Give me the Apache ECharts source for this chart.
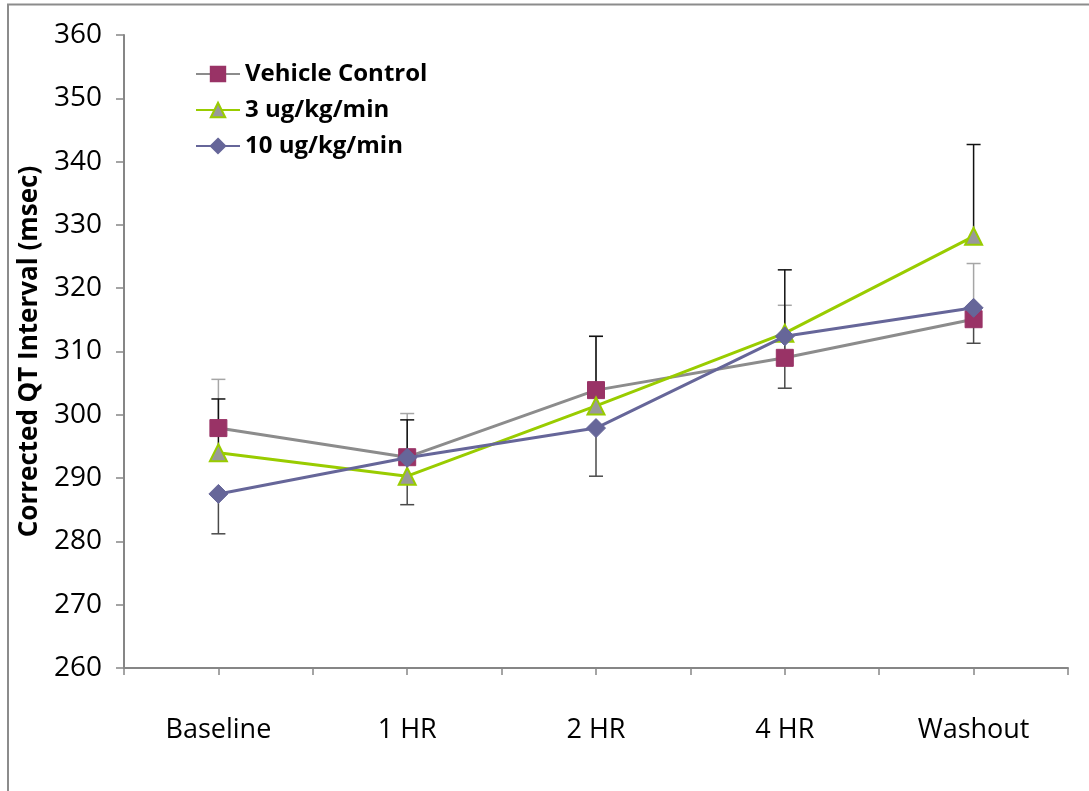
<!DOCTYPE html>
<html>
<head>
<meta charset="utf-8">
<script src="https://cdn.jsdelivr.net/npm/echarts@6/dist/echarts.min.js"></script>
<style>
html,body{margin:0;padding:0;background:#fff;}
#main{width:1089px;height:791px;}
</style>
</head>
<body>
<div id="main"></div>
<script>
// ---- data ----
const categories = ['Baseline', '1 HR', '2 HR', '4 HR', 'Washout'];
const seriesNames = ['Vehicle Control', '3 ug/kg/min', '10 ug/kg/min'];
const vehicle = [297.9, 293.3, 303.9, 309.0, 315.1];
const ug3 = [294.0, 290.3, 301.4, 312.9, 328.2];
const ug10 = [287.5, 293.2, 297.9, 312.4, 316.9];
// error bar ends (one-sided, as drawn in the reference)
const vehicleErrHigh = [305.6, 300.2, 312.4, 317.3, 323.9];
const ug3ErrHigh = [302.5, 299.2, 312.4, 322.9, 342.7];
const ug10ErrLow = [281.2, 285.8, 290.3, 304.2, 311.3];
const yTicks = [260, 270, 280, 290, 300, 310, 320, 330, 340, 350, 360];

const chart = echarts.init(document.getElementById('main'), null, {renderer: 'canvas'});
const FONT = "'Open Sans', 'DejaVu Sans', sans-serif";

function errSeries(vals, ends, color, z) {
  const data = vals.map((v, i) => [i, v, ends[i]]);
  return {
    type: 'custom',
    silent: true,
    z: z,
    renderItem: function (params, api) {
      const x = api.value(0);
      const p0 = api.coord([x, api.value(1)]);
      const p1 = api.coord([x, api.value(2)]);
      const cap = 7;
      return {
        type: 'group',
        children: [
          {type: 'line', shape: {x1: p0[0], y1: p0[1], x2: p1[0], y2: p1[1]}, style: {stroke: color, lineWidth: 1.5}},
          {type: 'line', shape: {x1: p1[0] - cap, y1: p1[1], x2: p1[0] + cap, y2: p1[1]}, style: {stroke: color, lineWidth: 1.5}}
        ]
      };
    },
    data: data
  };
}

const option = {
  animation: false,
  backgroundColor: '#ffffff',
  graphic: [
    {type: 'polyline', shape: {points: [[8, 791], [8, 4.5], [1089, 4.5]]}, style: {stroke: '#8c8c8c', lineWidth: 2, fill: null}, silent: true}
  ],
  grid: {left: 124, right: 21, top: 35, bottom: 123, containLabel: false},
  legend: {
    orient: 'vertical',
    left: 190,
    top: 57,
    itemWidth: 44,
    itemHeight: 18,
    itemGap: 12,
    data: seriesNames,
    textStyle: {fontFamily: FONT, fontWeight: 'bold', fontSize: 24, color: '#000'}
  },
  xAxis: [{
    type: 'category',
    data: categories,
    boundaryGap: true,
    axisLine: {lineStyle: {color: '#868686', width: 2}},
    axisTick: {show: true, alignWithLabel: false, length: 7, lineStyle: {color: '#868686', width: 1.5}},
    axisLabel: {margin: 49, fontFamily: FONT, fontSize: 27, color: '#000'},
    splitLine: {show: false}
  }, {
    type: 'category',
    data: categories,
    position: 'bottom',
    boundaryGap: true,
    axisLine: {show: false},
    axisTick: {show: true, alignWithLabel: true, length: 7, lineStyle: {color: '#868686', width: 1.5}},
    axisLabel: {show: false},
    splitLine: {show: false}
  }],
  yAxis: {
    type: 'value',
    min: yTicks[0],
    max: yTicks[yTicks.length - 1],
    interval: 10,
    name: 'Corrected QT Interval (msec)',
    nameLocation: 'middle',
    nameGap: 76,
    nameRotate: 90,
    nameTextStyle: {fontFamily: FONT, fontWeight: 'bold', fontSize: 26, color: '#000'},
    axisLine: {show: true, lineStyle: {color: '#868686', width: 2}},
    axisTick: {show: true, length: 8, lineStyle: {color: '#868686', width: 1.5}},
    axisLabel: {margin: 22, fontFamily: FONT, fontSize: 28, color: '#000'},
    splitLine: {show: false}
  },
  series: [
    errSeries(vehicle, vehicleErrHigh, '#a6a6a6', 1),
    errSeries(ug3, ug3ErrHigh, '#111111', 2),
    errSeries(ug10, ug10ErrLow, '#4a4a4a', 2),
    {
      name: seriesNames[0], type: 'line', data: vehicle, z: 3,
      symbol: 'rect', symbolSize: 17,
      lineStyle: {color: '#8c8c8c', width: 3},
      itemStyle: {color: '#993366', borderColor: '#993366', borderWidth: 1}
    },
    {
      name: seriesNames[1], type: 'line', data: ug3, z: 4,
      symbol: 'triangle', symbolSize: 17,
      lineStyle: {color: '#99cc00', width: 3},
      itemStyle: {color: '#999999', borderColor: '#99cc00', borderWidth: 2}
    },
    {
      name: seriesNames[2], type: 'line', data: ug10, z: 5,
      symbol: 'diamond', symbolSize: 19,
      lineStyle: {color: '#666699', width: 3},
      itemStyle: {color: '#666699', borderColor: '#666699', borderWidth: 1}
    }
  ]
};
chart.setOption(option);
</script>
</body>
</html>
